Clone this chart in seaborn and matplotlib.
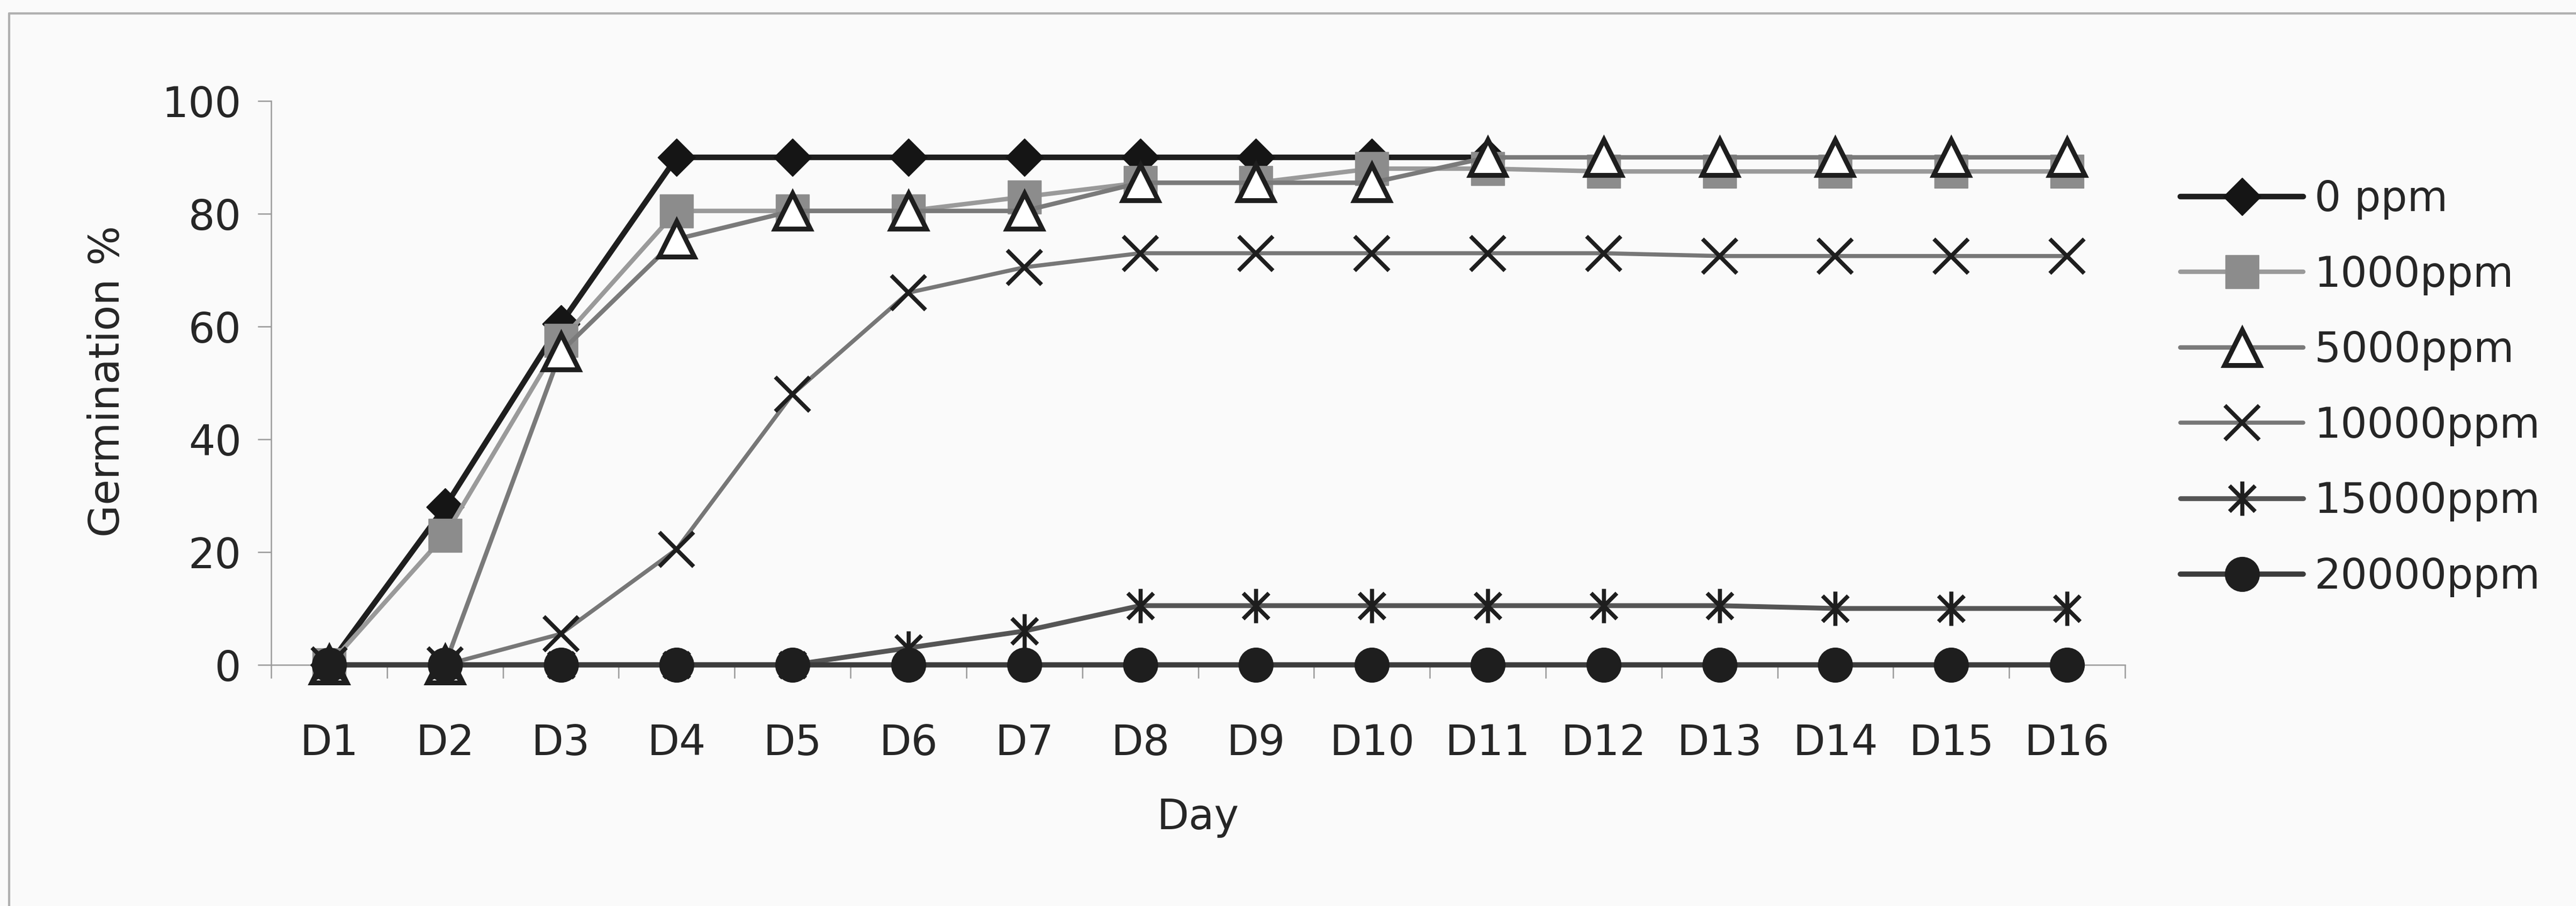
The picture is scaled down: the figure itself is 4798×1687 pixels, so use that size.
import numpy as np
import matplotlib
matplotlib.use("Agg")
import matplotlib.pyplot as plt
import seaborn as sns
from matplotlib.path import Path
from matplotlib.lines import Line2D
from matplotlib.ticker import FixedLocator

# ---- data -------------------------------------------------------------
days = ["D1", "D2", "D3", "D4", "D5", "D6", "D7", "D8",
        "D9", "D10", "D11", "D12", "D13", "D14", "D15", "D16"]
nan = np.nan
ppm_0 = [0, 28, 60.5, 90, 90, 90, 90, 90, 90, 90, 90, nan, nan, nan, nan, nan]
ppm_1000 = [0, 23, 57.5, 80.5, 80.5, 80.5, 83, 85.5, 85.5, 88, 88, 87.5, 87.5, 87.5, 87.5, 87.5]
ppm_5000 = [0, 0, 55.5, 75.5, 80.5, 80.5, 80.5, 85.5, 85.5, 85.5, 90, 90, 90, 90, 90, 90]
ppm_10000 = [0, 0, 5.5, 20.5, 48, 66, 70.5, 73, 73, 73, 73, 73, 72.5, 72.5, 72.5, 72.5]
ppm_15000 = [0, 0, 0, 0, 0, 3, 6, 10.5, 10.5, 10.5, 10.5, 10.5, 10.5, 10, 10, 10]
ppm_20000 = [0, 0, 0, 0, 0, 0, 0, 0, 0, 0, 0, 0, 0, 0, 0, 0]
series_labels = ["0 ppm", "1000ppm", "5000ppm", "10000ppm", "15000ppm", "20000ppm"]
y_ticks = [0, 20, 40, 60, 80, 100]

# ---- style ------------------------------------------------------------
sns.set_theme(style="white")
plt.rcParams["font.family"] = ["DejaVu Sans"]
BG = "#fafafa"
TXT = "#262626"
AXC = "#9a9a9a"
FS = 56

# asterisk marker: vertical stroke plus two diagonals
asterisk = Path(
    [(0, -1), (0, 1), (-0.75, -0.75), (0.75, 0.75), (-0.75, 0.75), (0.75, -0.75)],
    [Path.MOVETO, Path.LINETO, Path.MOVETO, Path.LINETO, Path.MOVETO, Path.LINETO],
)

W, H, DPI = 4798, 1687, 100
fig = plt.figure(figsize=(W / DPI, H / DPI), dpi=DPI, facecolor=BG)
ax = fig.add_axes([505 / W, 1 - 1238 / H, (3958 - 505) / W, (1238 - 188) / H])
ax.set_facecolor("none")

x = list(range(len(days)))
styles = [
    dict(values=ppm_0, color="#1e1e1e", lw=7.5, marker="D", ms=36, mfc="#151515", mec="#151515", mew=1.0),
    dict(values=ppm_1000, color="#9a9a9a", lw=6.0, marker="s", ms=45, mfc="#8c8c8c", mec="#8c8c8c", mew=1.0),
    dict(values=ppm_5000, color="#7a7a7a", lw=6.0, marker="^", ms=48, mfc="white", mec="#1e1e1e", mew=6.5),
    dict(values=ppm_10000, color="#777777", lw=5.5, marker="x", ms=46, mfc="none", mec="#1e1e1e", mew=5.5),
    dict(values=ppm_15000, color="#555555", lw=6.5, marker=asterisk, ms=46, mfc="none", mec="#1e1e1e", mew=5.5),
    dict(values=ppm_20000, color="#3c3c3c", lw=7.0, marker="o", ms=46, mfc="#1e1e1e", mec="#1e1e1e", mew=1.0),
]

for lab, st in zip(series_labels, styles):
    sns.lineplot(
        x=x, y=st["values"], ax=ax, sort=False, estimator=None,
        color=st["color"], linewidth=st["lw"], marker=st["marker"],
        markersize=st["ms"], markerfacecolor=st["mfc"],
        markeredgecolor=st["mec"], markeredgewidth=st["mew"],
        label=lab, clip_on=False, zorder=3,
    )

# ---- axes -------------------------------------------------------------
ax.set_xlim(-0.5, len(days) - 0.5)
ax.set_ylim(0, 100)
for side in ("top", "right"):
    ax.spines[side].set_visible(False)
for side in ("left", "bottom"):
    ax.spines[side].set_color(AXC)
    ax.spines[side].set_linewidth(1.8)

ax.set_xticks(x)
ax.set_xticklabels(days)
ax.xaxis.set_minor_locator(FixedLocator([i - 0.5 for i in range(len(days) + 1)]))
ax.tick_params(axis="x", which="major", length=0, pad=78, labelsize=FS, labelcolor=TXT)
ax.tick_params(axis="x", which="minor", length=18, width=1.8, color=AXC, direction="out", bottom=True)
ax.set_yticks(y_ticks)
ax.tick_params(axis="y", which="major", length=18, width=1.8, color=AXC, direction="out",
               left=True, pad=22, labelsize=FS, labelcolor=TXT)
ax.set_xlabel("")
ax.set_ylabel("")

fig.text(200 / W, 1 - 710 / H, "Germination %", rotation=90, ha="center", va="center",
         fontsize=FS, color=TXT)
fig.text(2231 / W, 1 - 1522 / H, "Day", ha="center", va="center", fontsize=FS, color=TXT)

# ---- legend -----------------------------------------------------------
handles, labels = ax.get_legend_handles_labels()
if ax.get_legend() is not None:
    ax.get_legend().remove()
fig.legend(handles, labels, loc="upper left", bbox_to_anchor=(4061 / W, 1 - 333 / H),
           frameon=False, fontsize=FS, handlelength=2.95, handletextpad=0.26,
           labelspacing=0.83, borderpad=0, borderaxespad=0, labelcolor=TXT)

# ---- chart-area frame (top and left edges) ----------------------------
fig.add_artist(Line2D([17 / W, 17 / W], [0, 1 - 25 / H], color="#b0b0b0", lw=3))
fig.add_artist(Line2D([17 / W, 1], [1 - 25 / H, 1 - 25 / H], color="#b0b0b0", lw=3))

fig.savefig("out.png", dpi=DPI, facecolor=BG)
